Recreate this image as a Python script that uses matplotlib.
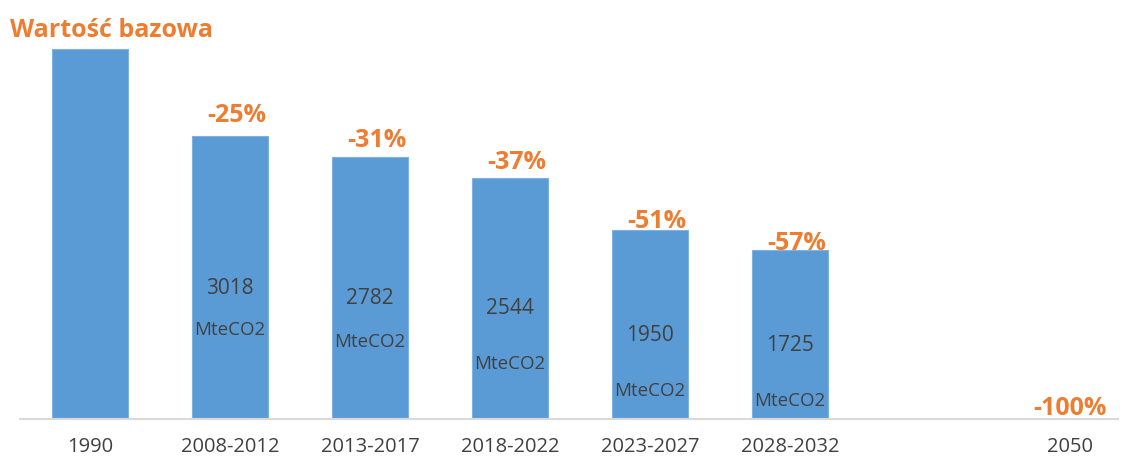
import matplotlib.pyplot as plt

plt.rcParams['font.family'] = ['Open Sans', 'DejaVu Sans']

categories = ["1990", "2008-2012", "2013-2017", "2018-2022", "2023-2027", "2028-2032", "", "2050"]
values = [4000, 3018, 2782, 2544, 1950, 1725, 0, 0]
value_labels = ["", "3018", "2782", "2544", "1950", "1725", "", ""]
pct_labels = ["", "-25%", "-31%", "-37%", "-51%", "-57%", "", "-100%"]

# label heights (data units) as placed in the original
value_y = [0, 1305, 1192, 1078, 772, 659, 0, 0]
unit_y = [0, 829, 693, 443, 137, 23, 0, 0]
pct_y = [0, 3260, 2976, 2726, 2057, 1808, 0, -60]

blue = "#5B9BD5"
orange = "#ED7D31"
dark = "#404040"
floor = -190

fig = plt.figure(figsize=(11.28, 4.6), dpi=100)
ax = fig.add_axes([20 / 1128, 1 - 420 / 460, 1098 / 1128, 380 / 460])

x = list(range(len(categories)))
heights = [v - floor if v > 0 else 0 for v in values]
ax.bar(x, heights, bottom=floor, width=0.543, color=blue, edgecolor="#7FB2E0", linewidth=0.8, zorder=2)

for i in x:
    if value_labels[i]:
        ax.text(i, value_y[i], value_labels[i], ha="center", va="center", fontsize=15, color=dark, zorder=3)
        ax.text(i, unit_y[i], "MteCO2", ha="center", va="center", fontsize=13.5, color=dark, zorder=3)
    if pct_labels[i]:
        off = 0.05 if i < 6 else 0
        ax.text(i + off, pct_y[i], pct_labels[i], ha="center", va="center", fontsize=18,
                fontweight="bold", color=orange, zorder=3)

ax.set_xlim(-0.5, 7.343)
ax.set_ylim(floor, 4117)
ax.set_xticks(x)
ax.set_xticklabels(categories, fontsize=14.5, color=dark)
ax.tick_params(axis="x", length=0, pad=12)
ax.set_yticks([])
for side in ["top", "right", "left"]:
    ax.spines[side].set_visible(False)
ax.spines["bottom"].set_color("#D9D9D9")
ax.spines["bottom"].set_linewidth(1.5)

fig.text(10 / 1128, 1 - 31 / 460, "Wartość bazowa", ha="left", va="center", fontsize=18,
         fontweight="bold", color=orange)

fig.savefig("out.png", dpi=100)
